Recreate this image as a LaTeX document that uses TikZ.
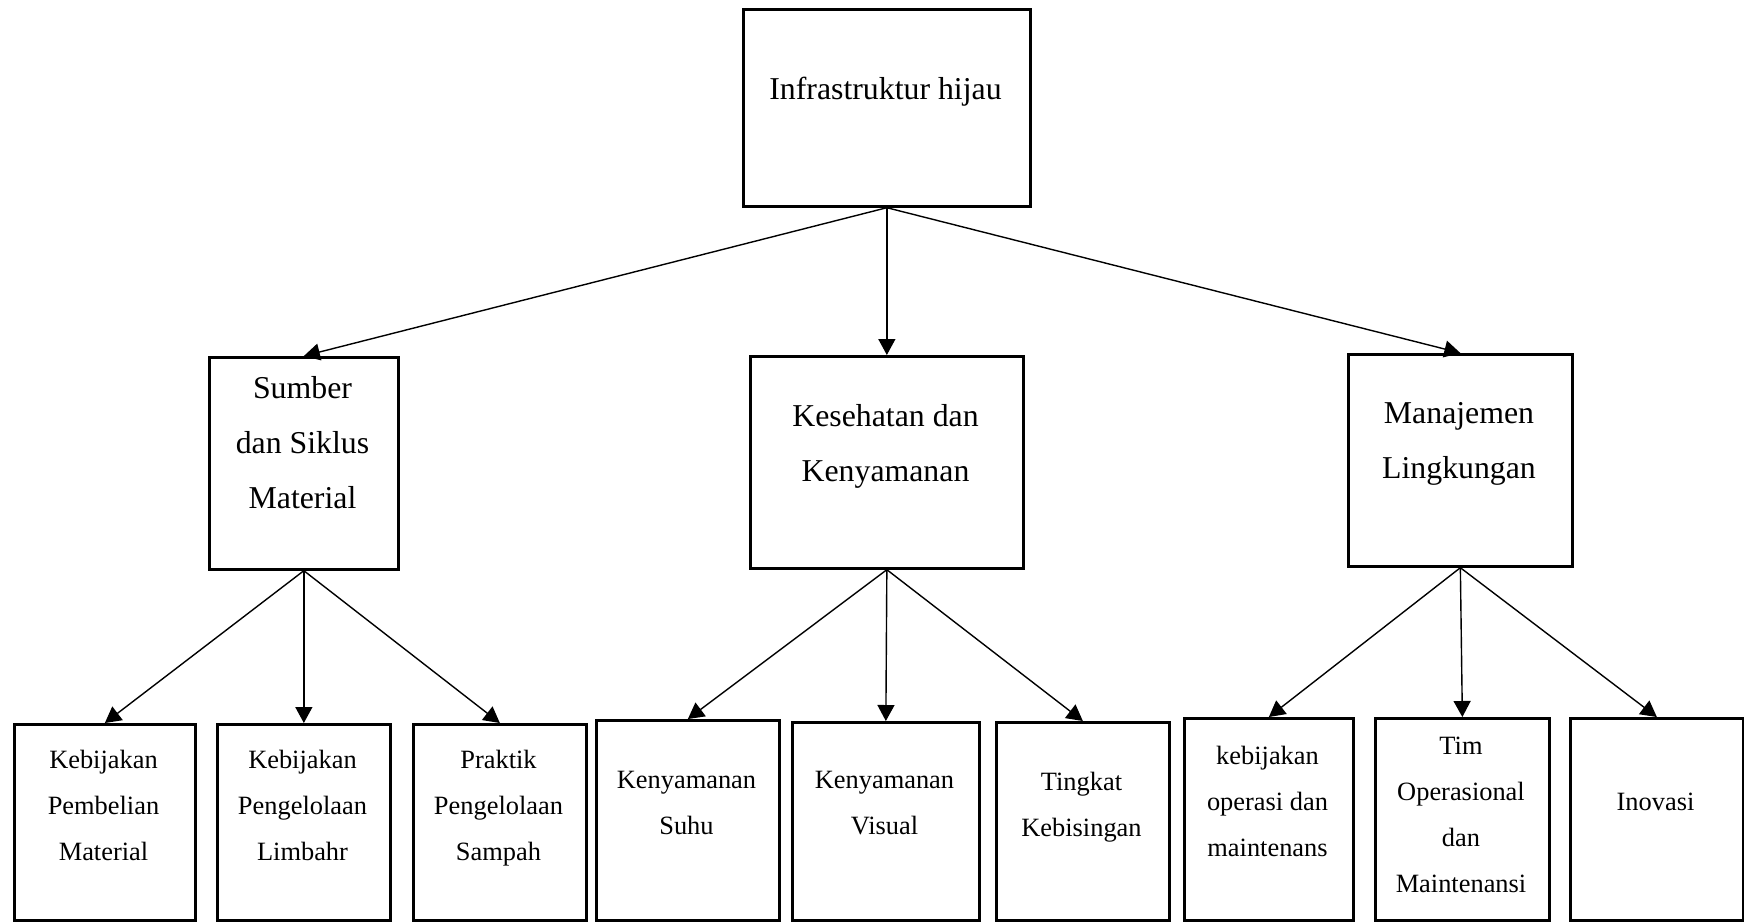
\documentclass[tikz,border=0pt]{standalone}
\usepackage{fontspec}
\setmainfont{Liberation Serif}
\usetikzlibrary{arrows.meta}
\tikzset{
  box/.style={draw, line width=2.7pt, rectangle, anchor=north west, inner sep=0pt},
  bigtxt/.style={anchor=base, align=center, inner sep=0pt, font=\fontsize{31.8}{55}\selectfont},
  smalltxt/.style={anchor=base, align=center, inner sep=0pt, font=\fontsize{26.4}{46}\selectfont},
  arr/.style={draw, line width=1.4pt, -{Triangle[length=16pt,width=17pt]}}
}
\begin{document}
\begin{tikzpicture}[x=1pt,y=-1pt]
\useasboundingbox (0,0) rectangle (1744,921);
% top
\node[box, minimum width=287pt, minimum height=197pt] (top) at (742,8) {};
\node[bigtxt] (ttop) at (885.5,99) {Infrastruktur hijau};
% middle level
\node[box, minimum width=189pt, minimum height=212pt] (sum) at (208,356) {};
\node[bigtxt] (tsum) at (302.5,508) {Sumber\\dan Siklus\\Material};
\node[box, minimum width=273pt, minimum height=212pt] (kes) at (749,355) {};
\node[bigtxt] (tkes) at (885.5,481) {Kesehatan dan\\Kenyamanan};
\node[box, minimum width=224pt, minimum height=212pt] (man) at (1347,353) {};
\node[bigtxt] (tman) at (1459,478) {Manajemen\\Lingkungan};
% bottom level
\node[box, minimum width=181pt, minimum height=196pt] (b1) at (13,723) {};
\node[smalltxt] (tb1) at (103.5,860) {Kebijakan\\Pembelian\\Material};
\node[box, minimum width=173pt, minimum height=196pt] (b2) at (216,723) {};
\node[smalltxt] (tb2) at (302.5,860) {Kebijakan\\Pengelolaan\\Limbahr};
\node[box, minimum width=173pt, minimum height=196pt] (b3) at (412,723) {};
\node[smalltxt] (tb3) at (498.5,860) {Praktik\\Pengelolaan\\Sampah};
\node[box, minimum width=183pt, minimum height=200pt] (b4) at (595,719) {};
\node[smalltxt] (tb4) at (686.5,834) {Kenyamanan\\Suhu};
\node[box, minimum width=187pt, minimum height=198pt] (b5) at (791,721) {};
\node[smalltxt] (tb5) at (884.5,834) {Kenyamanan\\Visual};
\node[box, minimum width=173pt, minimum height=198pt] (b6) at (995,721) {};
\node[smalltxt] (tb6) at (1081.5,836) {Tingkat\\Kebisingan};
\node[box, minimum width=169pt, minimum height=202pt] (b7) at (1183,717) {};
\node[smalltxt] (tb7) at (1267.5,856) {kebijakan\\operasi dan\\maintenans};
\node[box, minimum width=174pt, minimum height=202pt] (b8) at (1374,717) {};
\node[smalltxt] (tb8) at (1461,892) {Tim\\Operasional\\dan\\Maintenansi};
\node[box, minimum width=173pt, minimum height=202pt] (b9) at (1569,717) {};
\node[smalltxt] (tb9) at (1655.5,810) {Inovasi};
% connectors
\draw[arr] (top.south) -- (sum.north);
\draw[arr] (top.south) -- (kes.north);
\draw[arr] (top.south) -- (man.north);
\draw[arr] (sum.south) -- (b1.north);
\draw[arr] (sum.south) -- (b2.north);
\draw[arr] (sum.south) -- (b3.north);
\draw[arr] (kes.south) -- (b4.north);
\draw[arr] (kes.south) -- (b5.north);
\draw[arr] (kes.south) -- (b6.north);
\draw[arr] (man.south) -- (b7.north);
\draw[arr] (man.south) -- (b8.north);
\draw[arr] (man.south) -- (b9.north);
\end{tikzpicture}
\end{document}
